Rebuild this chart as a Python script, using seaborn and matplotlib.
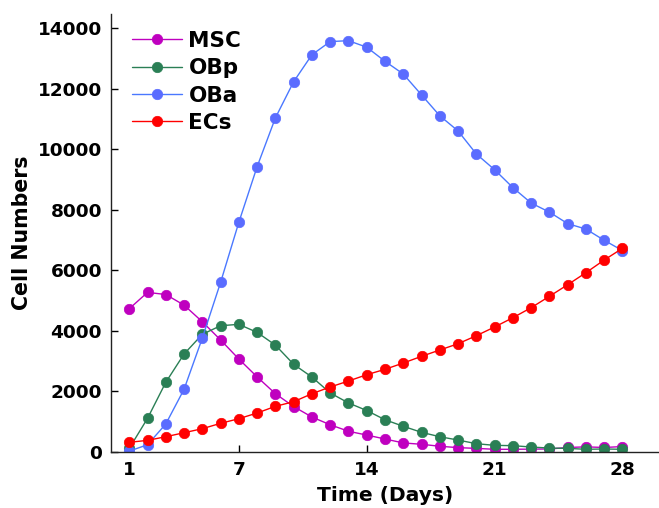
import numpy as np
import pandas as pd
import seaborn as sns
import matplotlib
matplotlib.use("Agg")
import matplotlib.pyplot as plt

days = list(range(1, 29))

msc = [4730, 5270, 5200, 4850, 4300, 3700, 3070, 2480, 1925, 1500,
       1155, 900, 685, 560, 430, 300, 255, 190, 145, 120,
       90, 90, 95, 100, 150, 170, 150, 180]
obp = [120, 1110, 2300, 3235, 3885, 4170, 4215, 3950, 3530, 2895,
       2475, 1950, 1620, 1370, 1065, 850, 650, 505, 395, 275,
       220, 210, 165, 130, 120, 90, 100, 90]
oba = [30, 240, 925, 2070, 3760, 5600, 7585, 9420, 11030, 12225,
       13115, 13550, 13580, 13365, 12900, 12480, 11790, 11100, 10600, 9840,
       9320, 8730, 8220, 7920, 7540, 7360, 6990, 6650]
ecs = [320, 385, 505, 637, 770, 947, 1100, 1288, 1508, 1661,
       1925, 2146, 2344, 2552, 2730, 2938, 3159, 3368, 3575, 3840,
       4127, 4434, 4764, 5140, 5523, 5920, 6339, 6725]

series = ["MSC", "OBp", "OBa", "ECs"]
line_colors = {"MSC": "#bf00bf", "OBp": "#2a7f55", "OBa": "#4a78ff", "ECs": "#ff0000"}
marker_colors = {"MSC": "#bf00bf", "OBp": "#2a7f55", "OBa": "#5a6cff", "ECs": "#ff0000"}

df = pd.DataFrame({"Day": days, "MSC": msc, "OBp": obp, "OBa": oba, "ECs": ecs})
long = df.melt(id_vars="Day", var_name="Cell", value_name="Count")

sns.set_theme(style="ticks")
plt.rcParams["font.family"] = ["DejaVu Sans"]
plt.rcParams["font.weight"] = "bold"
plt.rcParams["text.color"] = "black"
plt.rcParams["axes.labelcolor"] = "black"

fig = plt.figure(figsize=(6.59, 5.08), dpi=100)
ax = fig.add_axes([0.1684, 0.1102, 0.8316, 0.8622])

for name in series:
    sub = long[long["Cell"] == name]
    sns.lineplot(data=sub, x="Day", y="Count", ax=ax, label=name,
                 color=line_colors[name], linewidth=1.0,
                 marker="o", markersize=7.5,
                 markerfacecolor=marker_colors[name],
                 markeredgecolor=marker_colors[name], markeredgewidth=0.5)

ax.set_xlim(0, 30)
ax.set_ylim(0, 14460)
ax.set_xticks([1, 7, 14, 21, 28])
ax.set_yticks(np.arange(0, 14001, 2000))
ax.tick_params(direction="in", length=5, width=1, labelsize=13.3, colors="black")
ax.tick_params(axis="x", pad=6.5)
ax.tick_params(axis="y", pad=6.5)
for lab in ax.get_xticklabels() + ax.get_yticklabels():
    lab.set_fontweight("bold")
ax.set_xlabel("Time (Days)", fontsize=14.6, fontweight="bold", labelpad=5, color="black")
ax.set_ylabel("Cell Numbers", fontsize=14.8, fontweight="bold", labelpad=4, color="black")
for side in ["top", "right"]:
    ax.spines[side].set_visible(False)
for side in ["left", "bottom"]:
    ax.spines[side].set_linewidth(1.0)
    ax.spines[side].set_color("#222222")

leg = ax.legend(loc="upper left", frameon=False,
                prop={"weight": "bold", "size": 15.5},
                handlelength=2.33, handletextpad=0.28, labelspacing=0.34,
                borderaxespad=0.0, bbox_to_anchor=(0.023, 0.981))
for t in leg.get_texts():
    t.set_color("black")

fig.savefig("out.png", dpi=100)
